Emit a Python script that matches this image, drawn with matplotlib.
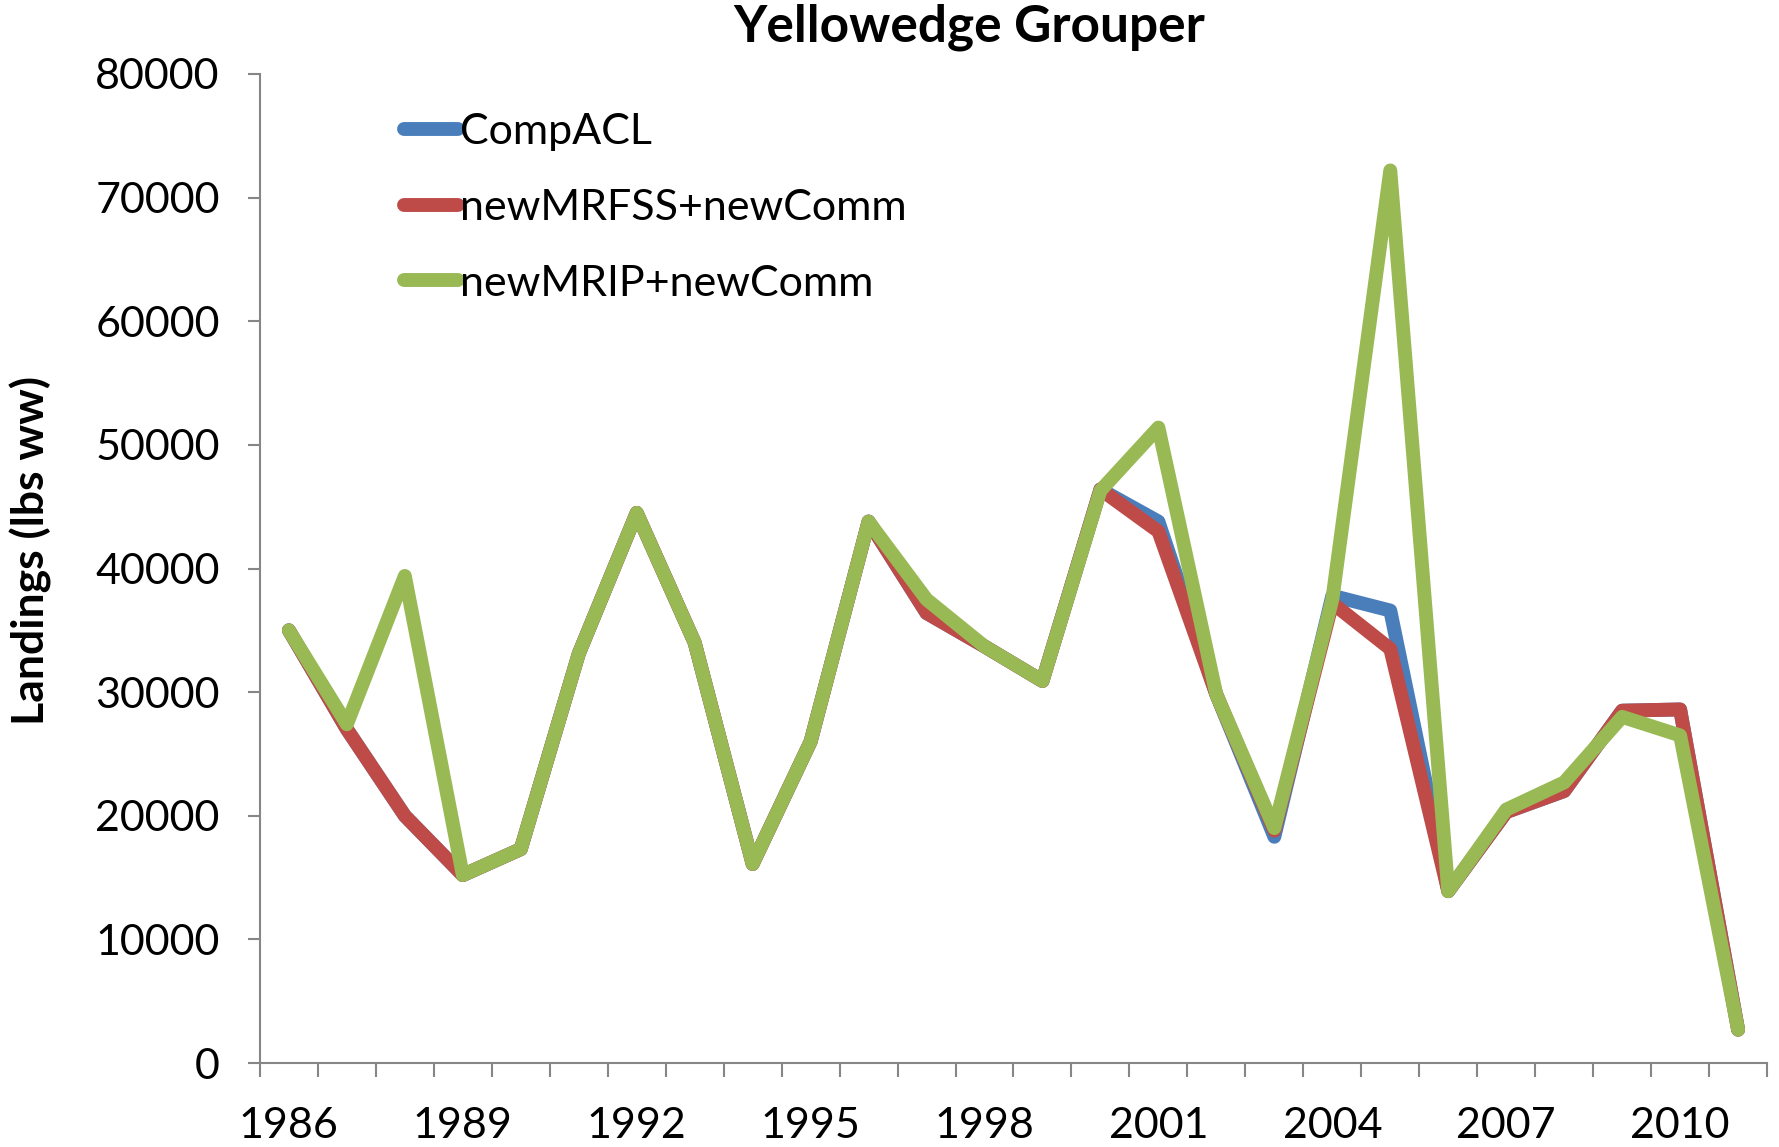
import matplotlib
matplotlib.use("Agg")
import matplotlib.pyplot as plt
from matplotlib.ticker import FixedLocator, NullFormatter

years = list(range(1986, 2012))
comp_acl = [35000, 27000, 20000, 15200, 17300, 33100, 44500, 34000, 16100, 26000,
            43800, 36400, 33700, 30900, 46400, 43800, 29800, 18300, 37800, 36600,
            13900, 20300, 22000, 28500, 28600, 2700]
new_mrfss = [35000, 27000, 20000, 15200, 17300, 33100, 44500, 34000, 16100, 26000,
             43800, 36400, 33700, 30900, 46400, 43000, 29800, 18800, 37200, 33500,
             13900, 20300, 22000, 28500, 28600, 2700]
new_mrip = [35000, 27400, 39400, 15200, 17300, 33100, 44500, 34000, 16100, 26000,
            43800, 37500, 33700, 30900, 46300, 51400, 29800, 19000, 37500, 72200,
            13900, 20500, 22700, 28000, 26500, 2700]
series_names = ["CompACL", "newMRFSS+newComm", "newMRIP+newComm"]
colors = ["#4A7EBB", "#BE4B48", "#98B954"]
yticks = list(range(0, 80001, 10000))
label_years = years[::3]

plt.rcParams['font.family'] = ['Lato', 'DejaVu Sans']

fig = plt.figure(figsize=(17.79, 11.47), dpi=100)
ax = fig.add_axes([0.1461, 0.0732, 0.9933 - 0.1461, 0.9355 - 0.0732])

x = list(range(len(years)))
for vals, name, c in zip([comp_acl, new_mrfss, new_mrip], series_names, colors):
    ax.plot(x, vals, color=c, lw=10, label=name, solid_joinstyle='round',
            solid_capstyle='round')

ax.set_xlim(-0.5, len(years) - 0.5)
ax.set_ylim(0, 80000)
ax.set_yticks(yticks)
ax.set_yticklabels([str(v) for v in yticks])
ax.tick_params(axis='y', length=9, width=1.5, color='#868686', pad=20, labelsize=31)

major = [years.index(yv) for yv in label_years]
ax.set_xticks(major)
ax.set_xticklabels([str(yv) for yv in label_years])
ax.tick_params(axis='x', which='major', length=0, pad=32, labelsize=31)
ax.xaxis.set_minor_locator(FixedLocator([i - 0.5 for i in range(len(years) + 1)]))
ax.xaxis.set_minor_formatter(NullFormatter())
ax.tick_params(axis='x', which='minor', length=10, width=1.5, color='#868686')

for s in ['top', 'right']:
    ax.spines[s].set_visible(False)
for s in ['left', 'bottom']:
    ax.spines[s].set_color('#868686')
    ax.spines[s].set_linewidth(1.5)

ax.set_ylabel("Landings (lbs ww)", fontsize=32, fontweight='bold')
ax.yaxis.set_label_coords(-0.138, 0.518)
fig.text(0.545, 0.976, "Yellowedge Grouper", ha='center', va='center',
         fontsize=37, fontweight='bold')

leg = ax.legend(loc='upper left', bbox_to_anchor=(0.07, 1.0), frameon=False,
                fontsize=31, handlelength=1.25, handletextpad=0.05, labelspacing=0.88)

fig.savefig("out.png", dpi=100)
